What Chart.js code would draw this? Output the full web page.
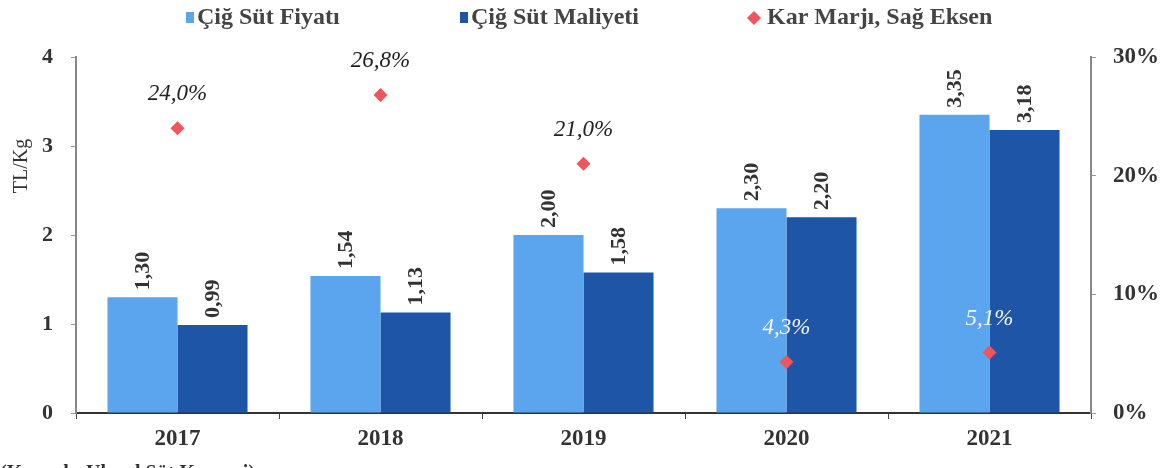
<!DOCTYPE html>
<html>
<head>
<meta charset="utf-8">
<script src="https://cdn.jsdelivr.net/npm/chart.js@4"></script>
<style>
  html, body { margin: 0; padding: 0; background: #fff; }
  #wrap { width: 1173px; height: 468px; }
</style>
</head>
<body>
<div id="wrap"><canvas id="milkChart" width="1173" height="468"></canvas></div>
<script>
// chart data
const years = ["2017", "2018", "2019", "2020", "2021"];
const milkPrice = [1.30, 1.54, 2.00, 2.30, 3.35];
const milkCost = [0.99, 1.13, 1.58, 2.20, 3.18];
const profitMargin = [0.240, 0.268, 0.210, 0.043, 0.051];
const leftTicks = [0, 1, 2, 3, 4];
const rightTicks = [0, 0.1, 0.2, 0.3];

const SERIF = "'Liberation Serif', 'DejaVu Serif', serif";
const lightBlue = "#5ba4ee";
const darkBlue = "#1f55a6";
const red = "#f2545b";

const fmtComma = (v, d) => v.toFixed(d).replace(".", ",");

// draws value labels, margin labels, legend, axis title
const extrasPlugin = {
    id: "extras",
    afterDatasetsDraw(chart) {
        const ctx = chart.ctx;
        ctx.save();

        // rotated bar value labels
        [0, 1].forEach((di) => {
            const meta = chart.getDatasetMeta(di);
            const vals = chart.data.datasets[di].data;
            meta.data.forEach((bar, i) => {
                ctx.save();
                ctx.translate(bar.x + 1, bar.y - 7);
                ctx.rotate(-Math.PI / 2);
                ctx.font = "bold 22px " + SERIF;
                ctx.fillStyle = "#333";
                ctx.textAlign = "left";
                ctx.textBaseline = "middle";
                ctx.fillText(fmtComma(vals[i], 2), 0, 0);
                ctx.restore();
            });
        });

        // margin labels
        const pm = chart.getDatasetMeta(2);
        pm.data.forEach((pt, i) => {
            ctx.font = "italic 23px " + SERIF;
            ctx.fillStyle = i >= 3 ? "#f4f8ff" : "#222";
            ctx.textAlign = "center";
            ctx.textBaseline = "middle";
            ctx.fillText(fmtComma(profitMargin[i] * 100, 1) + "%", pt.x, pt.y - 34);
        });

        // y axis title
        ctx.save();
        ctx.translate(22, 166);
        ctx.rotate(-Math.PI / 2);
        ctx.font = "20px " + SERIF;
        ctx.fillStyle = "#333";
        ctx.textAlign = "center";
        ctx.textBaseline = "middle";
        ctx.fillText("TL/Kg", 0, 0);
        ctx.restore();

        // legend
        const items = [
            { x: 186, ds: 0 },
            { x: 460, ds: 1 },
            { x: 747, ds: 2 },
        ];
        ctx.font = "bold 24px " + SERIF;
        ctx.textBaseline = "middle";
        ctx.textAlign = "left";
        items.forEach((it) => {
            const ds = chart.data.datasets[it.ds];
            const y = 18;
            if (it.ds === 2) {
                ctx.fillStyle = red;
                ctx.beginPath();
                ctx.moveTo(it.x + 7, y - 7);
                ctx.lineTo(it.x + 14, y);
                ctx.lineTo(it.x + 7, y + 7);
                ctx.lineTo(it.x, y);
                ctx.closePath();
                ctx.fill();
                ctx.fillStyle = "#444";
                ctx.fillText(ds.label, it.x + 20, y);
            } else {
                ctx.fillStyle = ds.backgroundColor;
                ctx.fillRect(it.x, y - 6, 8, 11);
                ctx.fillStyle = "#444";
                ctx.fillText(ds.label, it.x + 11, y);
            }
        });

        // source line (cut off at the bottom)
        ctx.font = "bold 20px " + SERIF;
        ctx.fillStyle = "#333";
        ctx.textBaseline = "top";
        ctx.fillText("(Kaynak: Ulusal Süt Konseyi)", 0, 464);

        ctx.restore();
    },
};

const ctx = document.getElementById("milkChart").getContext("2d");
new Chart(ctx, {
    type: "bar",
    data: {
        labels: years,
        datasets: [
            {
                label: "Çiğ Süt Fiyatı",
                data: milkPrice,
                backgroundColor: lightBlue,
                yAxisID: "y",
                categoryPercentage: 0.69,
                barPercentage: 1.0,
                order: 2,
            },
            {
                label: "Çiğ Süt Maliyeti",
                data: milkCost,
                backgroundColor: darkBlue,
                yAxisID: "y",
                categoryPercentage: 0.69,
                barPercentage: 1.0,
                order: 2,
            },
            {
                type: "line",
                label: "Kar Marjı, Sağ Eksen",
                data: profitMargin,
                yAxisID: "y1",
                showLine: false,
                pointStyle: "rectRot",
                pointRadius: 7,
                backgroundColor: red,
                borderColor: red,
                borderWidth: 0,
                order: 1,
            },
        ],
    },
    options: {
        responsive: false,
        animation: false,
        layout: { padding: { top: 57, left: 0, right: 0, bottom: 0 } },
        plugins: {
            legend: { display: false },
            tooltip: { enabled: false },
        },
        scales: {
            x: {
                grid: {
                    offset: true,
                    drawOnChartArea: false,
                    tickLength: 6,
                    color: "#444",
                },
                border: { color: "#333", width: 2 },
                ticks: {
                    color: "#333",
                    font: { family: SERIF, size: 23, weight: "bold" },
                    padding: 6,
                },
                afterFit: (s) => { s.height = 55; },
            },
            y: {
                position: "left",
                min: 0,
                max: 4,
                afterBuildTicks: (s) => { s.ticks = leftTicks.map((v) => ({ value: v })); },
                grid: { drawOnChartArea: false, tickLength: 5, color: "#999" },
                border: { color: "#888", width: 2 },
                ticks: {
                    color: "#333",
                    font: { family: SERIF, size: 22, weight: "bold" },
                    padding: 18,
                },
                afterFit: (s) => { s.width = 76; },
            },
            y1: {
                position: "right",
                min: 0,
                max: 0.3,
                afterBuildTicks: (s) => { s.ticks = rightTicks.map((v) => ({ value: v })); },
                grid: { drawOnChartArea: false, tickLength: 5, color: "#999" },
                border: { color: "#888", width: 2 },
                ticks: {
                    color: "#333",
                    font: { family: SERIF, size: 23, weight: "bold" },
                    padding: 17,
                    callback: (v) => Math.round(v * 100) + "%",
                },
                afterFit: (s) => { s.width = 82; },
            },
        },
    },
    plugins: [extrasPlugin],
});
</script>
</body>
</html>
